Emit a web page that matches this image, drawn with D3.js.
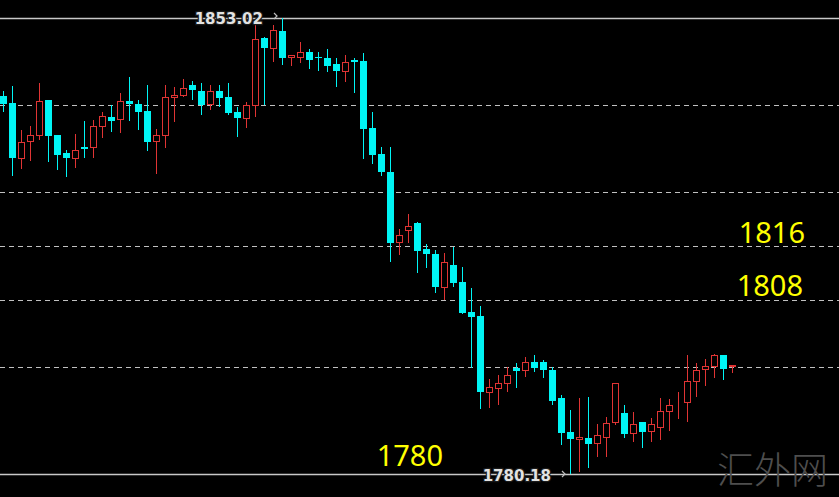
<!DOCTYPE html>
<html>
<head>
<meta charset="utf-8">
<script src="https://cdn.jsdelivr.net/npm/d3@7"></script>
<style>
  html, body { margin: 0; padding: 0; background: #000; }
  svg { display: block; }
</style>
</head>
<body>
<svg width="839" height="497"></svg>
<script>
// candle data (one bar per slot, left to right)
var open = [1840.56, 1839.45, 1830.66, 1833.38, 1834.34, 1839.93, 1834.34, 1831.46, 1830.66, 1832.42,
            1832.42, 1835.77, 1837.21, 1836.89, 1839.77, 1839.29, 1838.17, 1833.38, 1834.34, 1840.41,
            1840.72, 1842.32, 1841.36, 1839.29, 1841.36, 1840.41, 1838.01, 1837.05, 1839.13, 1849.83,
            1848.23, 1850.95, 1846.79, 1846.79, 1847.59, 1846.79, 1846.63, 1845.68, 1844.56, 1846.32,
            1846.16, 1835.45, 1831.30, 1828.42, 1817.24, 1819.16, 1820.28, 1816.12, 1815.33, 1810.05,
            1813.57, 1810.85, 1806.06, 1805.42, 1793.28, 1793.92, 1794.72, 1797.12, 1796.80, 1798.07,
            1798.07, 1796.80, 1792.32, 1786.89, 1785.77, 1785.93, 1785.13, 1786.09, 1788.49, 1789.93,
            1786.73, 1788.49, 1787.05, 1787.69, 1790.25, 1791.68, 1791.68, 1795.04, 1796.96, 1797.44,
            1799.19, 1797.44];
var high = [1841.36, 1842.16, 1835.13, 1835.77, 1842.64, 1839.93, 1834.34, 1831.94, 1834.49, 1836.57,
            1836.73, 1838.01, 1839.13, 1841.04, 1843.60, 1839.93, 1842.32, 1835.29, 1842.32, 1842.00,
            1843.28, 1842.96, 1842.64, 1842.32, 1842.32, 1842.64, 1838.81, 1839.61, 1851.91, 1849.99,
            1851.91, 1853.02, 1847.11, 1849.19, 1848.07, 1847.59, 1848.07, 1846.63, 1847.11, 1846.63,
            1847.43, 1838.01, 1832.42, 1832.42, 1819.32, 1821.72, 1820.44, 1816.92, 1815.96, 1815.49,
            1816.44, 1813.25, 1809.89, 1807.02, 1795.36, 1796.00, 1797.28, 1797.91, 1798.87, 1799.19,
            1798.39, 1797.28, 1792.80, 1790.41, 1792.32, 1792.48, 1788.17, 1789.29, 1794.72, 1791.21,
            1790.09, 1788.49, 1789.13, 1792.32, 1792.16, 1793.28, 1799.19, 1797.91, 1798.55, 1799.35,
            1799.19, 1797.59];
var low = [1838.01, 1827.79, 1828.90, 1830.18, 1833.54, 1830.02, 1828.74, 1827.63, 1829.06, 1830.66,
           1830.66, 1833.86, 1834.81, 1834.65, 1836.57, 1835.13, 1831.78, 1828.11, 1832.26, 1836.41,
           1840.41, 1839.93, 1837.53, 1838.33, 1838.81, 1837.53, 1834.02, 1835.45, 1837.21, 1839.13,
           1846.00, 1845.52, 1845.36, 1845.84, 1844.88, 1844.56, 1844.40, 1842.00, 1842.80, 1841.04,
           1830.50, 1829.70, 1827.79, 1814.05, 1815.17, 1817.08, 1812.29, 1813.09, 1809.10, 1807.98,
           1810.05, 1805.74, 1797.12, 1790.57, 1790.73, 1791.21, 1793.28, 1793.92, 1795.68, 1796.48,
           1795.52, 1791.21, 1784.82, 1780.18, 1780.50, 1781.14, 1782.90, 1782.90, 1788.01, 1785.93,
           1785.29, 1784.34, 1785.29, 1785.61, 1787.05, 1788.97, 1788.49, 1792.48, 1794.24, 1795.52,
           1795.20, 1796.32];
var close = [1839.29, 1830.66, 1833.22, 1834.34, 1839.77, 1834.18, 1831.14, 1830.66, 1831.94, 1832.10,
             1835.77, 1837.37, 1836.57, 1839.77, 1839.29, 1838.01, 1833.22, 1834.34, 1840.41, 1840.72,
             1841.84, 1841.52, 1839.13, 1841.36, 1840.25, 1837.85, 1837.05, 1839.13, 1849.67, 1848.23,
             1851.11, 1846.63, 1847.11, 1847.59, 1846.32, 1846.63, 1845.36, 1844.56, 1846.00, 1846.00,
             1835.29, 1831.14, 1828.42, 1817.08, 1818.36, 1819.80, 1815.81, 1815.33, 1810.05, 1814.05,
             1810.69, 1805.90, 1805.26, 1793.28, 1794.08, 1794.72, 1796.00, 1796.64, 1798.07, 1797.12,
             1796.80, 1791.84, 1786.73, 1785.77, 1786.09, 1784.98, 1786.41, 1788.33, 1794.72, 1786.57,
             1788.17, 1786.89, 1788.17, 1790.25, 1791.21, 1791.68, 1795.04, 1796.80, 1797.44, 1799.19,
             1796.96, 1797.59];

// dashed horizontal levels drawn across the chart
var levels = [1839.2, 1825.2, 1816.6, 1808, 1797.2];
// yellow notes: text and the level each sits on
var noteText = ["1816", "1808", "1780"];
var noteLevel = [1816.6, 1808, 1780.18];

var svg = d3.select("svg"),
    width = +svg.attr("width"),
    height = +svg.attr("height");

var hi = d3.max(high), lo = d3.min(low);

var x = d3.scaleLinear().domain([0, open.length - 1]).range([3, 732]);
var y = d3.scaleLinear().domain([lo, hi]).range([474, 18]);

var bull = "#e03434", bear = "#00f5f5";

svg.append("rect").attr("width", width).attr("height", height).attr("fill", "#000");

// dashed levels
svg.append("g").selectAll("line")
  .data(levels)
  .enter().append("line")
  .attr("x1", 0).attr("x2", width)
  .attr("y1", function (d) { return Math.round(y(d)) + 0.5; })
  .attr("y2", function (d) { return Math.round(y(d)) + 0.5; })
  .attr("stroke", "#c0c0c0")
  .attr("stroke-width", 1)
  .attr("stroke-dasharray", "5,4");

// high / low solid lines
svg.append("g").selectAll("line")
  .data([hi, lo])
  .enter().append("line")
  .attr("x1", 0).attr("x2", width)
  .attr("y1", function (d) { return Math.round(y(d)) + 0.5; })
  .attr("y2", function (d) { return Math.round(y(d)) + 0.5; })
  .attr("stroke", "#c8c8c8")
  .attr("stroke-width", 1.5);

var idx = d3.range(open.length);

// wicks
svg.append("g").selectAll("line")
  .data(idx)
  .enter().append("line")
  .attr("x1", function (i) { return x(i) + 0.5; })
  .attr("x2", function (i) { return x(i) + 0.5; })
  .attr("y1", function (i) { return Math.round(y(high[i])); })
  .attr("y2", function (i) { return Math.round(y(low[i])); })
  .attr("stroke", function (i) { return close[i] >= open[i] ? bull : bear; })
  .attr("stroke-width", 1);

// bodies: red up candles hollow, cyan down candles filled
svg.append("g").selectAll("rect")
  .data(idx)
  .enter().append("rect")
  .attr("x", function (i) { return close[i] >= open[i] ? x(i) - 2.5 : x(i) - 3; })
  .attr("y", function (i) {
    var t = Math.round(y(Math.max(open[i], close[i])));
    return close[i] >= open[i] ? t + 0.5 : t;
  })
  .attr("width", function (i) { return close[i] >= open[i] ? 6 : 7; })
  .attr("height", function (i) {
    var h = Math.round(y(Math.min(open[i], close[i]))) - Math.round(y(Math.max(open[i], close[i])));
    return close[i] >= open[i] ? Math.max(h, 0) : Math.max(h, 1);
  })
  .attr("fill", function (i) { return close[i] >= open[i] ? "#000" : bear; })
  .attr("stroke", function (i) { return close[i] >= open[i] ? bull : "none"; })
  .attr("stroke-width", 1);

// high / low price tags on the solid lines
var iHi = high.indexOf(hi), iLo = low.indexOf(lo);
var tags = [
  { v: hi, text: hi.toFixed(2), i: iHi, dy: 6 },
  { v: lo, text: lo.toFixed(2), i: iLo, dy: 7 }
];

svg.append("g").selectAll("text")
  .data(tags)
  .enter().append("text")
  .attr("x", function (d) { return x(d.i) - 19; })
  .attr("y", function (d) { return Math.round(y(d.v)) + d.dy; })
  .attr("text-anchor", "end")
  .attr("font-family", "DejaVu Sans")
  .attr("font-weight", "bold")
  .attr("font-size", 15)
  .attr("fill", "#e2e2e2")
  .attr("stroke", "#1a1a1a")
  .attr("stroke-width", 2.5)
  .attr("paint-order", "stroke")
  .text(function (d) { return d.text; });

// little arrow markers pointing at the extreme bars
svg.append("g").selectAll("path")
  .data(tags)
  .enter().append("path")
  .attr("d", function (d) {
    var cx = x(d.i) - 5, cy = Math.round(y(d.v)) - (d.v === hi ? 2 : 0);
    return "M" + (cx - 3) + "," + (cy - 3) + "L" + cx + "," + cy + "L" + (cx - 3) + "," + (cy + 3);
  })
  .attr("fill", "none")
  .attr("stroke", "#bdbdbd")
  .attr("stroke-width", 1.2);

// yellow notes
var noteX = [805, 803, 443], noteDy = [-3, -4, -8];
svg.append("g").selectAll("text")
  .data(noteText)
  .enter().append("text")
  .attr("x", function (d, i) { return noteX[i]; })
  .attr("y", function (d, i) { return Math.round(y(noteLevel[i])) + noteDy[i]; })
  .attr("text-anchor", "end")
  .attr("font-family", "Noto Sans")
  .attr("font-size", 29)
  .attr("fill", "#ffff00")
  .text(function (d) { return d; });

// watermark
svg.append("text")
  .attr("x", 828).attr("y", 484)
  .attr("text-anchor", "end")
  .attr("font-family", "Noto Sans CJK SC")
  .attr("font-weight", 300)
  .attr("font-size", 37)
  .attr("fill", "#4e4e4e")
  .text("汇外网");
</script>
</body>
</html>
